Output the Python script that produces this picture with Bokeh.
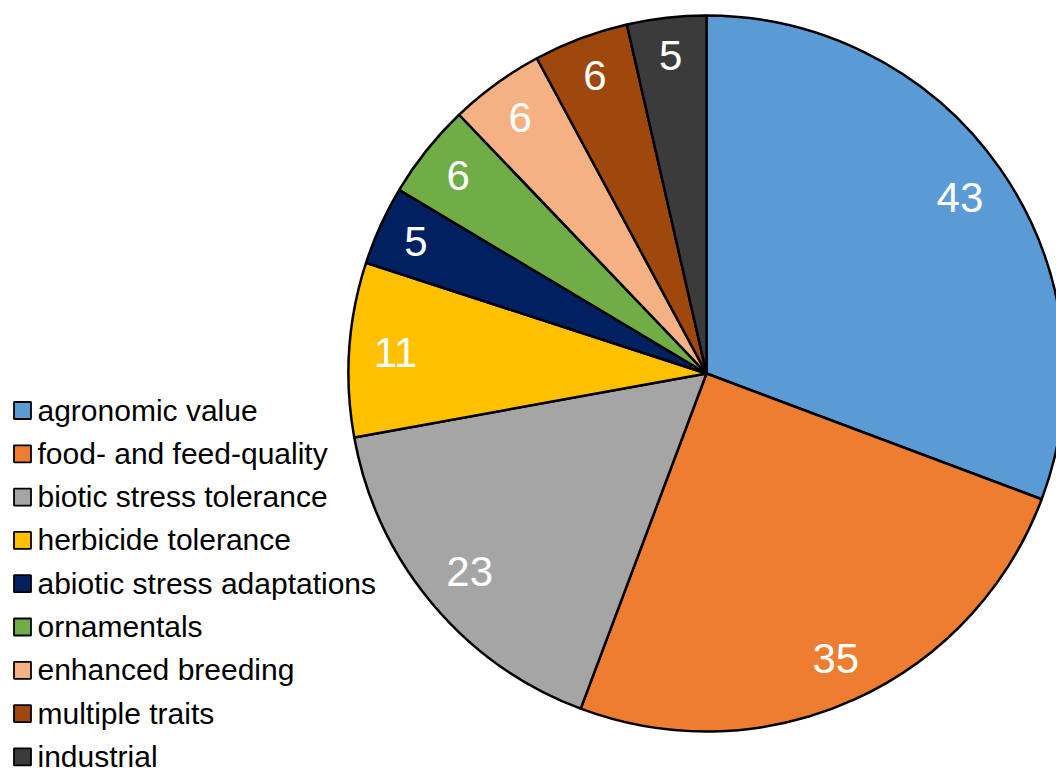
import math

from bokeh.core.properties import value
from bokeh.embed import file_html
from bokeh.models import ColumnDataSource, Range1d
from bokeh.plotting import figure
from bokeh.resources import INLINE

# Trait categories and number of applications per category
categories = [
    "agronomic value",
    "food- and feed-quality",
    "biotic stress tolerance",
    "herbicide tolerance",
    "abiotic stress adaptations",
    "ornamentals",
    "enhanced breeding",
    "multiple traits",
    "industrial",
]
counts = [43, 35, 23, 11, 5, 6, 6, 6, 5]
colors = [
    "#5B9BD5", "#ED7D31", "#A5A5A5", "#FFC000", "#002060",
    "#70AD47", "#F4B183", "#9E480E", "#3B3B3B",
]

W, H = 1056, 774
FONT = "Liberation Sans"

# pie geometry (pixel units, y axis pointing up)
CX, CY, R = 706.0, H - 373.0, 358.0
LABEL_SIZE = 42
LABEL_EDGE = 336.0  # outer limit for the value labels (inside end)

total = float(sum(counts))
starts, ends, lx, ly = [], [], [], []
cum = 0.0
for c in counts:
    a0 = cum / total * 2 * math.pi          # clockwise from 12 o'clock
    a1 = (cum + c) / total * 2 * math.pi
    starts.append(math.pi / 2 - a0)
    ends.append(math.pi / 2 - a1)
    mid = (a0 + a1) / 2
    ux, uy = math.sin(mid), math.cos(mid)
    half_w = len(str(c)) * 0.556 * LABEL_SIZE / 2
    half_h = 0.716 * LABEL_SIZE / 2
    extent = abs(ux) * half_w + abs(uy) * half_h
    d = LABEL_EDGE - extent
    lx.append(CX + d * ux)
    ly.append(CY + d * uy)
    cum += c

pie_src = ColumnDataSource(dict(
    start=starts, end=ends, color=colors, cat=categories,
    lx=lx, ly=ly, txt=[str(c) for c in counts],
))

p = figure(
    width=W, height=H, output_backend="svg", toolbar_location=None,
    x_range=Range1d(0, W), y_range=Range1d(0, H),
    min_border=0, outline_line_color=None, background_fill_color="white",
)
p.axis.visible = False
p.grid.visible = False

p.wedge(
    x=CX, y=CY, radius=R, start_angle="start", end_angle="end",
    direction="clock", fill_color="color", line_color="black",
    line_width=2.5, source=pie_src,
)
p.text(
    x="lx", y="ly", text="txt", source=pie_src,
    text_color="white", text_font=value(FONT),
    text_font_size=f"{LABEL_SIZE}px", text_align="center",
    text_baseline="middle",
)

# legend column on the left
LEG_Y0, LEG_STEP = H - 410.0, 43.3
leg_y = [LEG_Y0 - i * LEG_STEP for i in range(len(categories))]
leg_src = ColumnDataSource(dict(
    y=leg_y, ty=[y + 0.5 for y in leg_y], color=colors, cat=categories,
))
p.rect(
    x=22, y="y", width=17, height=17, fill_color="color",
    line_color="black", line_width=1.8, source=leg_src,
)
p.text(
    x=37, y="ty", text="cat", source=leg_src, text_color="black",
    text_font=value(FONT), text_font_size="30px",
    text_align="left", text_baseline="alphabetic",
)

open("out.html", "w").write(file_html(p, INLINE))
